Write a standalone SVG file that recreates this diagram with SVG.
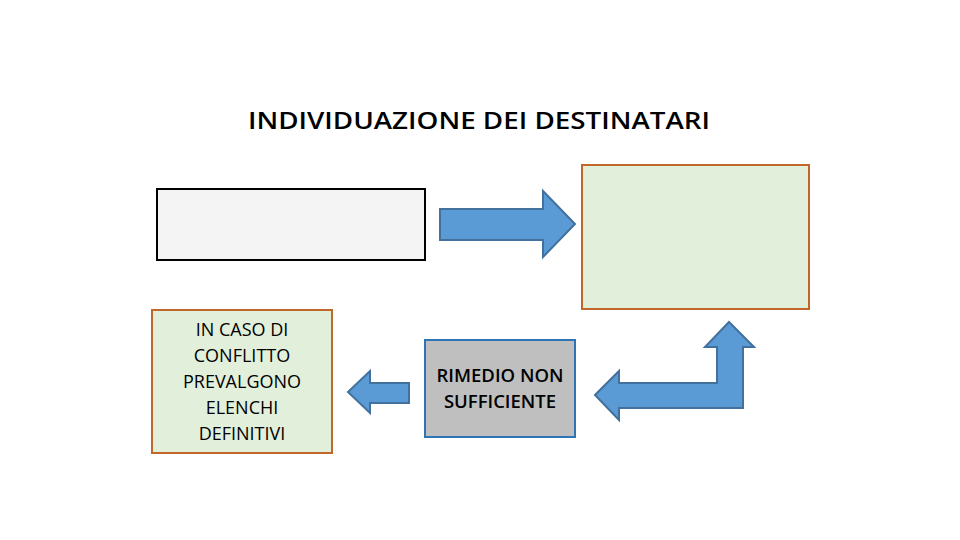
<svg xmlns="http://www.w3.org/2000/svg" width="960" height="540" viewBox="0 0 960 540">
  <style>
    .arrow { fill: #5b9bd5; stroke: #41719c; stroke-width: 2; stroke-linejoin: miter; }
    .t { font-family: "Open Sans", "Liberation Sans", sans-serif; fill: #000; text-anchor: middle; }
    .box-text { font-size: 18px; }
    .gray-text { font-size: 18.5px; font-weight: 600; }
    .title { font-size: 24px; font-weight: 600; }
  </style>
  <rect width="960" height="540" fill="#ffffff"/>

  <g id="title">
    <text class="t title" x="479" y="129" textLength="462" lengthAdjust="spacingAndGlyphs">INDIVIDUAZIONE DEI DESTINATARI</text>
  </g>

  <g id="node-empty-box">
    <rect x="157" y="189" width="268" height="71" fill="#f4f4f4" stroke="#000000" stroke-width="2"/>
  </g>

  <g id="node-green-box">
    <rect x="582" y="165" width="227" height="144" fill="#e2efda" stroke="#c0682a" stroke-width="2"/>
  </g>

  <g id="node-conflitto">
    <rect x="152" y="310" width="180" height="143" fill="#e2efda" stroke="#c0682a" stroke-width="2"/>
    <text class="t box-text" x="242" y="336">IN CASO DI</text>
    <text class="t box-text" x="242" y="362">CONFLITTO</text>
    <text class="t box-text" x="242" y="388">PREVALGONO</text>
    <text class="t box-text" x="242" y="414">ELENCHI</text>
    <text class="t box-text" x="242" y="440">DEFINITIVI</text>
  </g>

  <g id="node-rimedio">
    <rect x="425" y="340" width="150" height="97" fill="#bfbfbf" stroke="#2e75b6" stroke-width="2"/>
    <text class="t gray-text" x="500" y="382">RIMEDIO NON</text>
    <text class="t gray-text" x="500" y="408">SUFFICIENTE</text>
  </g>

  <g id="connectors">
    <path class="arrow" d="M440,209 L543,209 L543,191 L575,224 L543,257 L543,240 L440,240 Z"/>
    <path class="arrow" d="M348,392 L370,371 L370,383 L409,383 L409,403 L370,403 L370,413 Z"/>
    <path class="arrow" d="M595,395 L619,371 L619,383 L717,383 L717,347 L705,347 L729,322 L754,347 L743,347 L743,408 L619,408 L619,420 Z"/>
  </g>
</svg>
